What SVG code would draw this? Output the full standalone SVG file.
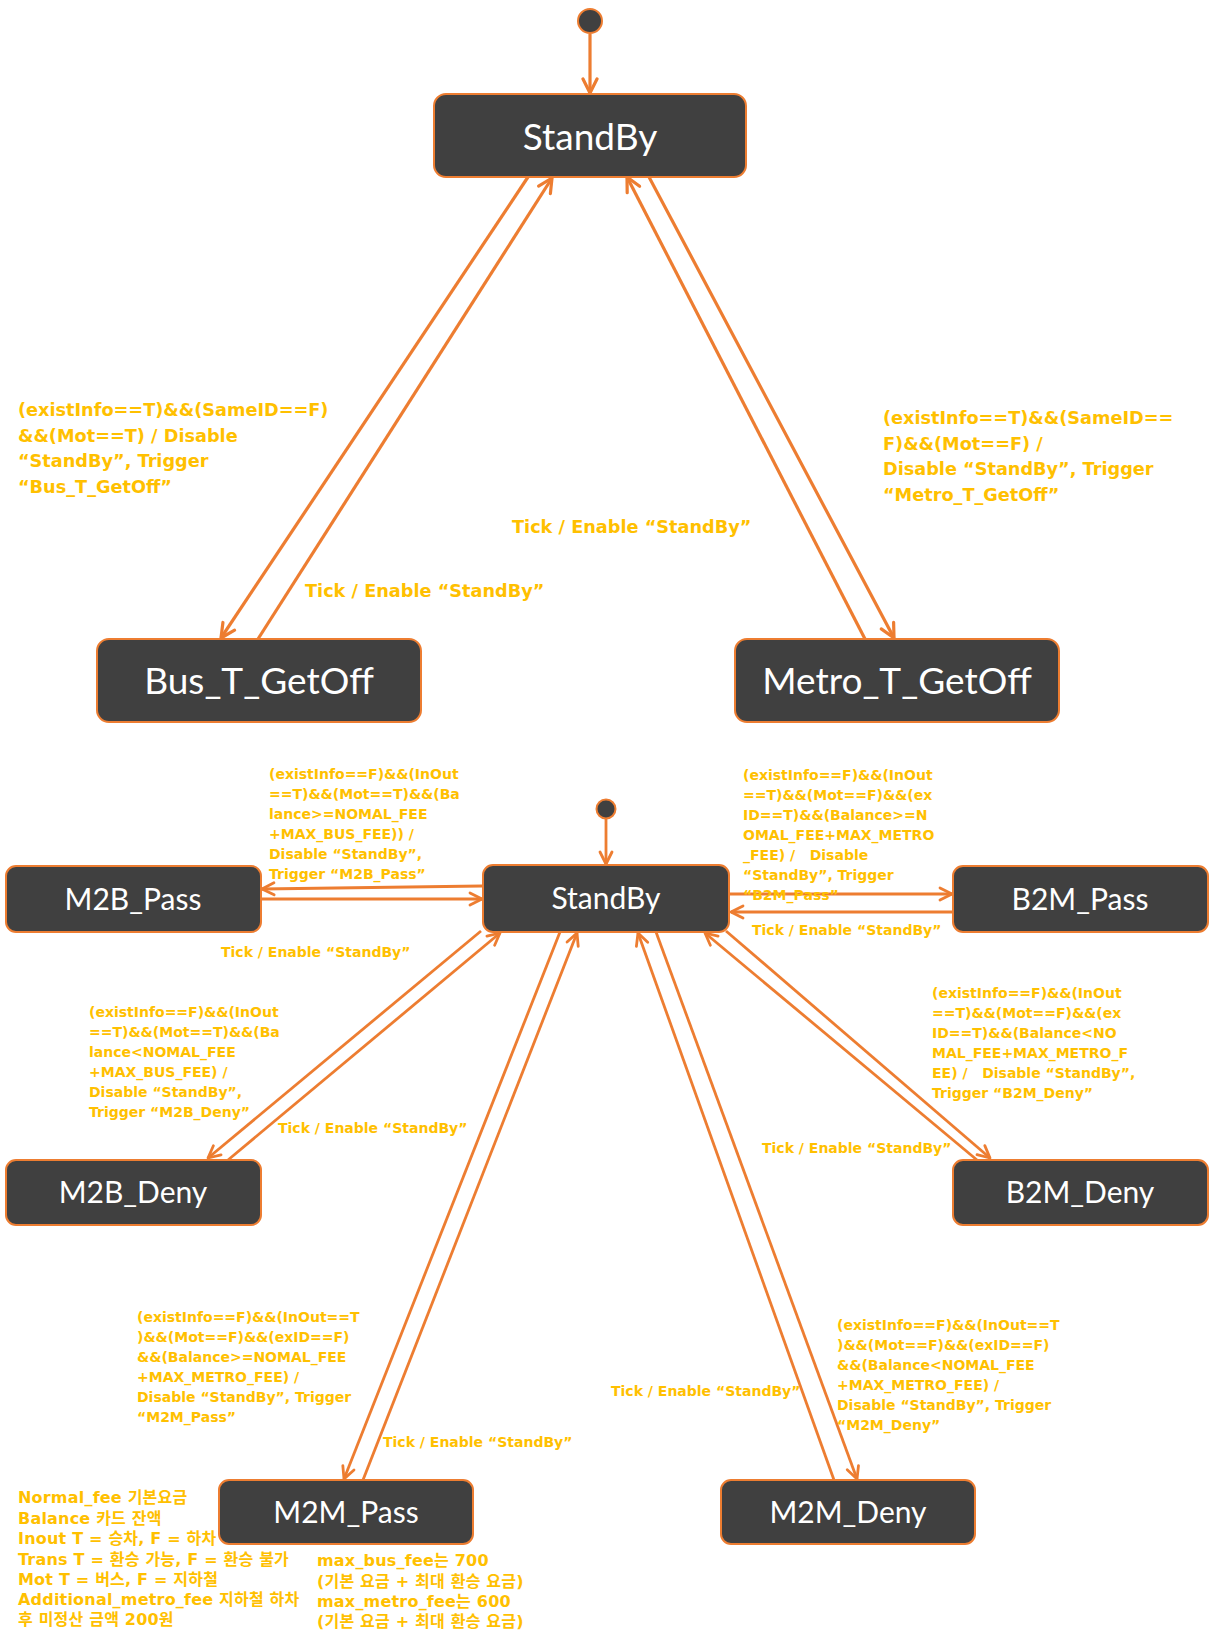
<svg xmlns="http://www.w3.org/2000/svg" width="1217" height="1634" viewBox="0 0 1217 1634">
<defs>
<style>
.box{fill:#404040;stroke:#ED7D31;stroke-width:2}
.nt{fill:#FFFFFF;font-family:Lato,"Open Sans","Noto Sans",sans-serif;text-anchor:middle}
.big{font-size:37px}
.sm{font-size:30px}
.c1{fill:none;stroke:#ED7D31;stroke-width:3.2;marker-end:url(#ahL)}
.c2{fill:none;stroke:#ED7D31;stroke-width:2.8;marker-end:url(#ahS)}
.lb{fill:#FFC000;font-family:"DejaVu Sans","Noto Sans CJK KR",sans-serif;font-weight:bold}
.l18{font-size:17.7px}
.l14{font-size:14px}
.l15{font-size:16px;letter-spacing:0.2px}
.init{fill:#404040;stroke:#ED7D31;stroke-width:2}
</style>
<marker id="ahL" viewBox="0 0 18 18" refX="16" refY="9" markerWidth="18" markerHeight="18" markerUnits="userSpaceOnUse" orient="auto">
<path d="M2,2 L16,9 L2,16" fill="none" stroke="#ED7D31" stroke-width="3.2" stroke-linecap="round" stroke-linejoin="round"/>
</marker>
<marker id="ahS" viewBox="0 0 16 16" refX="14" refY="8" markerWidth="16" markerHeight="16" markerUnits="userSpaceOnUse" orient="auto">
<path d="M2,2 L14,8 L2,14" fill="none" stroke="#ED7D31" stroke-width="2.8" stroke-linecap="round" stroke-linejoin="round"/>
</marker>
</defs>
<rect width="1217" height="1634" fill="#FFFFFF"/>

<g id="connectors">
<line class="c1" x1="590" y1="34" x2="590" y2="93"/>
<line class="c1" x1="528" y1="177" x2="221" y2="638"/>
<line class="c1" x1="258" y1="639" x2="552" y2="178"/>
<line class="c1" x1="865" y1="639" x2="627" y2="177"/>
<line class="c1" x1="649" y1="177" x2="894" y2="638"/>

<line class="c2" x1="606" y1="819" x2="606" y2="864"/>
<line class="c2" x1="482" y1="886" x2="262" y2="889"/>
<line class="c2" x1="262" y1="899" x2="482" y2="899"/>
<line class="c2" x1="730" y1="894" x2="952" y2="894"/>
<line class="c2" x1="953" y1="912" x2="731" y2="912"/>
<line class="c2" x1="481" y1="931" x2="208" y2="1158"/>
<line class="c2" x1="228" y1="1160" x2="500" y2="933"/>
<line class="c2" x1="726" y1="931" x2="990" y2="1158"/>
<line class="c2" x1="977" y1="1160" x2="705" y2="933"/>
<line class="c2" x1="560" y1="932" x2="344" y2="1479"/>
<line class="c2" x1="363" y1="1480" x2="577" y2="933"/>
<line class="c2" x1="834" y1="1480" x2="638" y2="933"/>
<line class="c2" x1="656" y1="932" x2="857" y2="1479"/>
</g>

<g id="init-top"><circle class="init" cx="590" cy="21" r="12"/></g>
<g id="init-bottom"><circle class="init" cx="606" cy="809" r="9.5"/></g>

<g id="standby-top">
<rect class="box" x="434" y="94" width="312" height="83" rx="12"/>
<text class="nt big" x="590" y="150">StandBy</text>
</g>
<g id="bus-t-getoff">
<rect class="box" x="97" y="639" width="324" height="83" rx="12"/>
<text class="nt big" x="259" y="694">Bus_T_GetOff</text>
</g>
<g id="metro-t-getoff">
<rect class="box" x="735" y="639" width="324" height="83" rx="12"/>
<text class="nt big" x="897" y="694">Metro_T_GetOff</text>
</g>

<g id="standby-bottom">
<rect class="box" x="483" y="865" width="246" height="67" rx="10"/>
<text class="nt sm" x="606" y="909">StandBy</text>
</g>
<g id="m2b-pass">
<rect class="box" x="6" y="866" width="255" height="66" rx="10"/>
<text class="nt sm" x="133" y="910">M2B_Pass</text>
</g>
<g id="b2m-pass">
<rect class="box" x="953" y="866" width="255" height="66" rx="10"/>
<text class="nt sm" x="1080" y="910">B2M_Pass</text>
</g>
<g id="m2b-deny">
<rect class="box" x="6" y="1160" width="255" height="65" rx="10"/>
<text class="nt sm" x="133" y="1203">M2B_Deny</text>
</g>
<g id="b2m-deny">
<rect class="box" x="953" y="1160" width="255" height="65" rx="10"/>
<text class="nt sm" x="1080" y="1203">B2M_Deny</text>
</g>
<g id="m2m-pass">
<rect class="box" x="219" y="1480" width="254" height="64" rx="10"/>
<text class="nt sm" x="346" y="1523">M2M_Pass</text>
</g>
<g id="m2m-deny">
<rect class="box" x="721" y="1480" width="254" height="64" rx="10"/>
<text class="nt sm" x="848" y="1523">M2M_Deny</text>
</g>

<g id="labels">
<text class="lb l18" x="18" y="416">
<tspan x="18" y="416">(existInfo==T)&amp;&amp;(SameID==F)</tspan>
<tspan x="18" y="441.5">&amp;&amp;(Mot==T) / Disable</tspan>
<tspan x="18" y="467">“StandBy”, Trigger</tspan>
<tspan x="18" y="492.5">“Bus_T_GetOff”</tspan>
</text>
<text class="lb l18" x="305" y="597">Tick / Enable “StandBy”</text>
<text class="lb l18" x="512" y="533">Tick / Enable “StandBy”</text>
<text class="lb l18" x="883" y="424">
<tspan x="883" y="424">(existInfo==T)&amp;&amp;(SameID==</tspan>
<tspan x="883" y="449.5">F)&amp;&amp;(Mot==F) /</tspan>
<tspan x="883" y="475">Disable “StandBy”, Trigger</tspan>
<tspan x="883" y="500.5">“Metro_T_GetOff”</tspan>
</text>

<text class="lb l14">
<tspan x="269" y="779">(existInfo==F)&amp;&amp;(InOut</tspan>
<tspan x="269" y="799">==T)&amp;&amp;(Mot==T)&amp;&amp;(Ba</tspan>
<tspan x="269" y="819">lance&gt;=NOMAL_FEE</tspan>
<tspan x="269" y="839">+MAX_BUS_FEE)) /</tspan>
<tspan x="269" y="859">Disable “StandBy”,</tspan>
<tspan x="269" y="879">Trigger “M2B_Pass”</tspan>
</text>
<text class="lb l14" x="221" y="957">Tick / Enable “StandBy”</text>

<text class="lb l14">
<tspan x="743" y="780">(existInfo==F)&amp;&amp;(InOut</tspan>
<tspan x="743" y="800">==T)&amp;&amp;(Mot==F)&amp;&amp;(ex</tspan>
<tspan x="743" y="820">ID==T)&amp;&amp;(Balance&gt;=N</tspan>
<tspan x="743" y="840">OMAL_FEE+MAX_METRO</tspan>
<tspan x="743" y="860" xml:space="preserve">_FEE) /   Disable</tspan>
<tspan x="743" y="880">“StandBy”, Trigger</tspan>
<tspan x="743" y="900">“B2M_Pass”</tspan>
</text>
<text class="lb l14" x="752" y="935">Tick / Enable “StandBy”</text>

<text class="lb l14">
<tspan x="89" y="1017">(existInfo==F)&amp;&amp;(InOut</tspan>
<tspan x="89" y="1037">==T)&amp;&amp;(Mot==T)&amp;&amp;(Ba</tspan>
<tspan x="89" y="1057">lance&lt;NOMAL_FEE</tspan>
<tspan x="89" y="1077">+MAX_BUS_FEE) /</tspan>
<tspan x="89" y="1097">Disable “StandBy”,</tspan>
<tspan x="89" y="1117">Trigger “M2B_Deny”</tspan>
</text>
<text class="lb l14" x="278" y="1133">Tick / Enable “StandBy”</text>

<text class="lb l14">
<tspan x="932" y="998">(existInfo==F)&amp;&amp;(InOut</tspan>
<tspan x="932" y="1018">==T)&amp;&amp;(Mot==F)&amp;&amp;(ex</tspan>
<tspan x="932" y="1038">ID==T)&amp;&amp;(Balance&lt;NO</tspan>
<tspan x="932" y="1058">MAL_FEE+MAX_METRO_F</tspan>
<tspan x="932" y="1078" xml:space="preserve">EE) /   Disable “StandBy”,</tspan>
<tspan x="932" y="1098">Trigger “B2M_Deny”</tspan>
</text>
<text class="lb l14" x="762" y="1153">Tick / Enable “StandBy”</text>

<text class="lb l14">
<tspan x="137" y="1322">(existInfo==F)&amp;&amp;(InOut==T</tspan>
<tspan x="137" y="1342">)&amp;&amp;(Mot==F)&amp;&amp;(exID==F)</tspan>
<tspan x="137" y="1362">&amp;&amp;(Balance&gt;=NOMAL_FEE</tspan>
<tspan x="137" y="1382">+MAX_METRO_FEE) /</tspan>
<tspan x="137" y="1402">Disable “StandBy”, Trigger</tspan>
<tspan x="137" y="1422">“M2M_Pass”</tspan>
</text>
<text class="lb l14" x="383" y="1447">Tick / Enable “StandBy”</text>

<text class="lb l14">
<tspan x="837" y="1330">(existInfo==F)&amp;&amp;(InOut==T</tspan>
<tspan x="837" y="1350">)&amp;&amp;(Mot==F)&amp;&amp;(exID==F)</tspan>
<tspan x="837" y="1370">&amp;&amp;(Balance&lt;NOMAL_FEE</tspan>
<tspan x="837" y="1390">+MAX_METRO_FEE) /</tspan>
<tspan x="837" y="1410">Disable “StandBy”, Trigger</tspan>
<tspan x="837" y="1430">“M2M_Deny”</tspan>
</text>
<text class="lb l14" x="611" y="1396">Tick / Enable “StandBy”</text>

<text class="lb l15">
<tspan x="18" y="1503">Normal_fee 기본요금</tspan>
<tspan x="18" y="1524">Balance 카드 잔액</tspan>
<tspan x="18" y="1544">Inout T = 승차, F = 하차</tspan>
<tspan x="18" y="1565">Trans T = 환승 가능, F = 환승 불가</tspan>
<tspan x="18" y="1585">Mot T = 버스, F = 지하철</tspan>
<tspan x="18" y="1605">Additional_metro_fee 지하철 하차</tspan>
<tspan x="18" y="1625">후 미정산 금액 200원</tspan>
</text>
<text class="lb l15">
<tspan x="317" y="1566">max_bus_fee는 700</tspan>
<tspan x="317" y="1587">(기본 요금 + 최대 환승 요금)</tspan>
<tspan x="317" y="1607">max_metro_fee는 600</tspan>
<tspan x="317" y="1627">(기본 요금 + 최대 환승 요금)</tspan>
</text>
</g>
</svg>
